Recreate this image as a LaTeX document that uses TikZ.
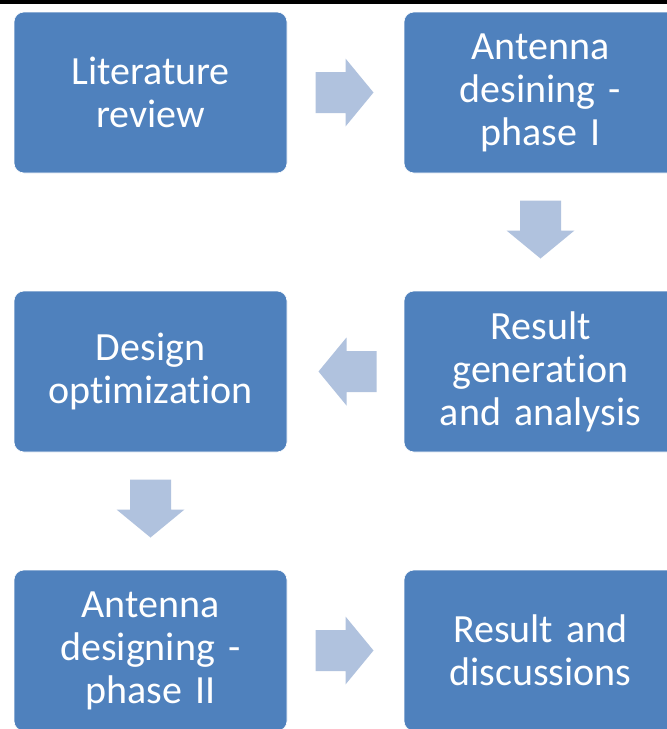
\documentclass[tikz,border=0pt]{standalone}
\usepackage{fontspec}
\newfontfamily\boxfont[Ligatures=NoCommon]{Carlito}
\usetikzlibrary{calc}
\definecolor{boxblue}{RGB}{79,129,189}
\definecolor{arrowblue}{RGB}{176,194,222}
\tikzset{
  stepbox/.style={rectangle, rounded corners=10pt, fill=boxblue, draw=white, line width=0.6pt,
    minimum width=273pt, minimum height=161pt, text width=260pt, align=center, text=white,
    inner sep=0pt, font=\boxfont\fontsize{40}{43}\selectfont},
  blockarrow/.style={fill=arrowblue, draw=none}
}
\newcommand{\blockarr}[2]{%
  \fill[blockarrow, shift={(#1)}, rotate=#2] (-29,-20.5) -- (1,-20.5) -- (1,-34) -- (29,0)
    -- (1,34) -- (1,20.5) -- (-29,20.5) -- cycle;}
\begin{document}
\begin{tikzpicture}[x=1pt,y=-1pt]
\clip (0,0) rectangle (667,729);
\fill[white] (0,0) rectangle (667,729);
\fill[black] (0,0) rectangle (667,4);
\node[stepbox] (lit) at (150.5,92.5) {Literature\\review};
\node[stepbox] (ant1) at (540.5,92.5) {Antenna\\desining -\\phase I};
\node[stepbox] (res) at (540.5,371.5) {Result\\generation\\and analysis};
\node[stepbox] (opt) at (150.5,371.5) {Design\\optimization};
\node[stepbox] (ant2) at (150.5,650.5) {Antenna\\designing -\\phase II};
\node[stepbox] (disc) at (540.5,650.5) {Result and\\discussions};
\coordinate (a1) at ($(lit.east)!0.5!(ant1.west)+(-1,0)$);
\coordinate (a2) at ($(ant1.south)!0.5!(res.north)+(0,-2.5)$);
\coordinate (a3) at ($(res.west)!0.5!(opt.east)+(2,0)$);
\coordinate (a4) at ($(opt.south)!0.5!(ant2.north)+(0,-2.5)$);
\coordinate (a5) at ($(ant2.east)!0.5!(disc.west)+(-1,0)$);
\blockarr{a1}{0}
\blockarr{a2}{-90}
\blockarr{a3}{180}
\blockarr{a4}{-90}
\blockarr{a5}{0}
\end{tikzpicture}
\end{document}
